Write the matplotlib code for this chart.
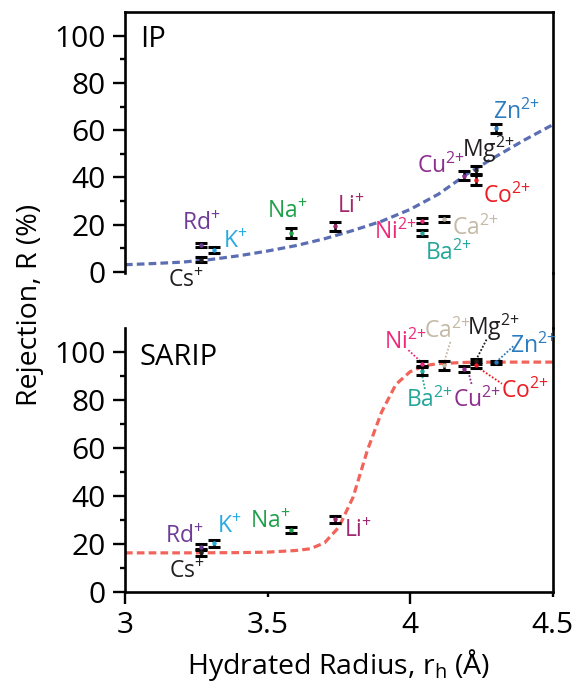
import matplotlib.pyplot as plt
from matplotlib.lines import Line2D

plt.rcParams['font.family'] = ['Open Sans', 'DejaVu Sans']
plt.rcParams['mathtext.default'] = 'regular'

# ions (same order in both panels)
ions = ['Cs', 'Rd', 'K', 'Na', 'Li', 'Ni', 'Ba', 'Ca', 'Cu', 'Mg', 'Co', 'Zn']
charges = ['+', '+', '+', '+', '+', '2+', '2+', '2+', '2+', '2+', '2+', '2+']
ion_colors = ['#231f20', '#6e3b96', '#27aae1', '#1fa04a', '#a0286e', '#ec2a7b',
              '#26a69a', '#c4b9a5', '#8e2e8f', '#231f20', '#ec1c24', '#2b7bbf']
radius = [3.267, 3.267, 3.312, 3.583, 3.735, 4.043, 4.043, 4.118, 4.188, 4.232, 4.232, 4.302]

# rejection (%) and error
ip_rej = [5.3, 11.6, 9.3, 16.4, 19.3, 21.7, 16.7, 22.4, 40.8, 43.2, 38.9, 60.8]
ip_err = [1.0, 0.9, 1.3, 2.2, 1.9, 1.1, 1.3, 1.2, 2.0, 1.6, 2.1, 2.0]
sarip_rej = [16.6, 18.6, 20.3, 25.8, 30.3, 95.1, 92.3, 94.4, 93.0, 96.2, 94.6, 95.7]
sarip_err = [1.4, 1.2, 1.4, 1.4, 1.4, 1.3, 1.8, 1.9, 1.2, 1.0, 1.2, 0.7]

# trend lines
ip_fit_x = [3.0, 3.1, 3.2, 3.3, 3.4, 3.5, 3.6, 3.7, 3.8, 3.9, 4.0, 4.1, 4.2, 4.3, 4.4, 4.5]
ip_fit_y = [3.1, 3.6, 4.2, 5.3, 6.9, 8.9, 11.2, 14.1, 17.6, 21.5, 26.5, 33.0, 41.5, 48.8, 55.8, 62.3]
sarip_fit_x = [3.0, 3.2, 3.4, 3.5, 3.6, 3.65, 3.7, 3.75, 3.8, 3.85, 3.9, 3.95, 4.0, 4.05, 4.1, 4.2, 4.3, 4.5]
sarip_fit_y = [16.3, 16.3, 16.4, 16.6, 17.3, 18.0, 20.5, 27.0, 39.5, 59.0, 75.0, 86.5, 91.8, 94.3, 95.2, 95.7, 95.8, 95.8]

# label placement (data coords, baseline-left)
ip_label_pos = [(3.152, -6.2), (3.200, 17.7), (3.343, 10.0), (3.497, 22.7), (3.743, 24.8),
                (3.872, 14.2), (4.052, 5.1), (4.146, 15.6), (4.025, 41.9), (4.181, 48.6),
                (4.255, 29.2), (4.292, 64.9)]
sarip_label_pos = [(3.155, 5.7), (3.140, 20.3), (3.322, 24.4), (3.438, 26.5), (3.768, 23.0),
                   (3.910, 101.5), (3.985, 77.2), (4.048, 105.7), (4.150, 77.2), (4.198, 107.1),
                   (4.318, 80.7), (4.350, 99.6)]
# dotted leaders in the SARIP panel: ion -> ((x0, y0), (x1, y1))
sarip_leaders = {
    'Ni': ((3.994, 100.8), (4.041, 95.6)),
    'Ba': ((4.043, 89.8), (4.052, 84.5)),
    'Ca': ((4.141, 104.2), (4.122, 96.8)),
    'Cu': ((4.204, 91.8), (4.216, 86.5)),
    'Mg': ((4.268, 105.2), (4.236, 97.8)),
    'Co': ((4.245, 93.0), (4.322, 86.8)),
    'Zn': ((4.362, 102.4), (4.309, 96.6)),
}

fig = plt.figure(figsize=(5.76, 6.82), dpi=100)
ax1 = fig.add_axes([0.217, 0.5997, 0.7425, 0.3827])
ax2 = fig.add_axes([0.217, 0.132, 0.7425, 0.387])


def style_axis(ax):
    for s in ax.spines.values():
        s.set_linewidth(1.9)
    ax.set_xlim(3, 4.5)
    ax.set_ylim(0, 110)
    ax.set_yticks(range(0, 101, 20))
    ax.set_yticks(range(10, 100, 20), minor=True)
    ax.tick_params(axis='y', which='major', direction='out', length=8.6, width=1.7,
                   labelsize=21.5, pad=5)
    ax.tick_params(axis='y', which='minor', direction='out', length=3.6, width=1.7)


def ion_text(i):
    return ions[i] + '$^{' + charges[i].replace('+', '{+}') + '}$'


def draw_panel(ax, rej, err, fit_x, fit_y, fit_color, label_pos):
    ax.plot(fit_x, fit_y, color=fit_color, lw=2.3, dashes=(2.4, 1.3), zorder=1)
    ax.errorbar(radius, rej, yerr=err, fmt='none', ecolor='black', elinewidth=1.8,
                capsize=4.0, capthick=2.2, zorder=3)
    for i in range(len(ions)):
        ax.plot(radius[i], rej[i], 'o', ms=2.2, color=ion_colors[i], zorder=4)
        x, y = label_pos[i]
        ax.text(x, y, ion_text(i), color=ion_colors[i], fontsize=16.5,
                ha='left', va='baseline', clip_on=False)


# IP panel
style_axis(ax1)
ax1.set_ylim(-0.4, 110)
ax1.spines['bottom'].set_visible(False)
ax1.tick_params(axis='x', which='both', bottom=False, labelbottom=False)
draw_panel(ax1, ip_rej, ip_err, ip_fit_x, ip_fit_y, '#5b6eb3', ip_label_pos)
ax1.text(0.035, 0.866, 'IP', transform=ax1.transAxes, fontsize=21, va='baseline')

# SARIP panel
style_axis(ax2)
ax2.spines['top'].set_visible(False)
ax2.set_xticks([3, 4], labels=['3', '4'])
ax2.set_xticks([3.5, 4.5], labels=['3.5', '4.5'], minor=True)
ax2.tick_params(axis='x', which='major', direction='out', length=8.6, width=1.7,
                labelsize=21.5, pad=5)
ax2.tick_params(axis='x', which='minor', direction='out', length=3.6, width=1.7,
                labelsize=21.5, pad=10)
draw_panel(ax2, sarip_rej, sarip_err, sarip_fit_x, sarip_fit_y, '#f2645a', sarip_label_pos)
for name, (p0, p1) in sarip_leaders.items():
    c = ion_colors[ions.index(name)]
    ax2.plot([p0[0], p1[0]], [p0[1], p1[1]], ls=(0, (1, 1)), lw=1.3, color=c, zorder=2)
ax2.text(0.035, 0.86, 'SARIP', transform=ax2.transAxes, fontsize=21, va='baseline')

# right frame continues between panels
b1 = ax1.get_position()
b2 = ax2.get_position()
fig.add_artist(Line2D([b1.x1, b1.x1], [b2.y1, b1.y0], transform=fig.transFigure,
                      color='black', lw=1.9))

fig.text(0.052, 0.553, 'Rejection, R (%)', rotation=90, fontsize=20.5,
         ha='center', va='center')
fig.text((b2.x0 + b2.x1) / 2, 8 / 682, 'Hydrated Radius, r$_{h}$ (\u00c5)', fontsize=20.5,
         ha='center', va='baseline')

fig.savefig('out.png', dpi=100)
